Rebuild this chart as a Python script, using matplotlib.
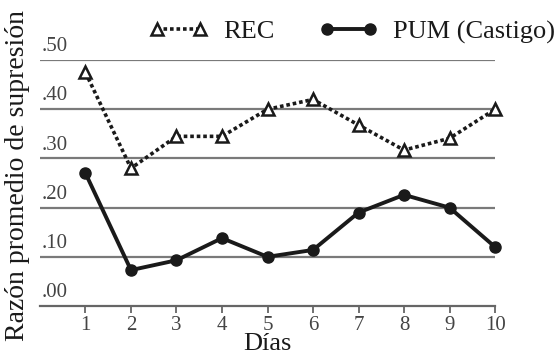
import matplotlib
matplotlib.use("Agg")
import matplotlib.pyplot as plt

# --- data ---
dias = [1, 2, 3, 4, 5, 6, 7, 8, 9, 10]
rec = [0.475, 0.28, 0.345, 0.345, 0.40, 0.42, 0.368, 0.317, 0.341, 0.40]
pum = [0.27, 0.073, 0.093, 0.138, 0.10, 0.114, 0.19, 0.226, 0.20, 0.12]
y_ticks = [0.0, 0.1, 0.2, 0.3, 0.4, 0.5]
y_tick_labels = ['.00', '.10', '.20', '.30', '.40', '.50']

plt.rcParams['font.family'] = ['Liberation Serif', 'DejaVu Serif']

fig = plt.figure(figsize=(5.55, 3.6), dpi=100)
ax = fig.add_axes([0.072, 0.15, 0.82, 0.683])

ax.plot(dias, rec, color='#1a1a1a', linestyle=(0, (1, 0.8)), linewidth=2.6,
        marker='^', markersize=8, markerfacecolor='white',
        markeredgecolor='#1a1a1a', markeredgewidth=1.8, label='REC', clip_on=False, zorder=3)
ax.plot(dias, pum, color='#1a1a1a', linestyle='-', linewidth=2.8,
        marker='o', markersize=8, label='PUM (Castigo)', clip_on=False, zorder=3)

ax.set_xlim(0, 10)
ax.set_ylim(0, 0.5)
ax.set_xticks(dias)
ax.set_xticklabels([str(d) for d in dias], fontsize=15, color='#444444')
ax.tick_params(axis='x', direction='out', length=5, width=1.3, color='#666666', pad=2)
ax.set_yticks(y_ticks[1:])
ax.set_yticklabels([])
ax.tick_params(axis='y', length=0)
ax.yaxis.grid(True, color='#7a7a7a', linewidth=1.6)
ax.set_axisbelow(True)

for s in ['top', 'right', 'left']:
    ax.spines[s].set_visible(False)
ax.spines['bottom'].set_color('#666666')
ax.spines['bottom'].set_linewidth(1.6)

for v, lab in zip(y_ticks, y_tick_labels):
    ax.text(0.004, v + 0.008, lab, transform=ax.get_yaxis_transform(),
            ha='left', va='bottom', fontsize=15, color='#444444')

ax.set_xlabel('Días', fontsize=19, color='#1a1a1a', labelpad=-1)
ax.set_ylabel('Razón promedio de supresión', fontsize=20, color='#1a1a1a')
ax.yaxis.set_label_coords(-0.022, 0.53)

fig.legend(loc='center', bbox_to_anchor=(0.635, 0.912), ncol=2, frameon=False,
           fontsize=19, numpoints=2, handlelength=2.2, handletextpad=0.6,
           columnspacing=1.7, labelcolor='#1a1a1a')

fig.savefig('out.png', dpi=100)
